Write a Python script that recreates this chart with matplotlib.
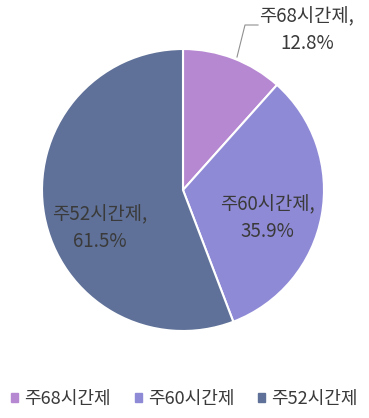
import matplotlib.pyplot as plt

plt.rcParams['font.family'] = ['Noto Sans CJK KR', 'DejaVu Sans']

categories = ['주68시간제', '주60시간제', '주52시간제']
values = [12.8, 35.9, 61.5]
colors = ['#b688d2', '#8f8ad6', '#5f7198']

fig = plt.figure(figsize=(3.69, 4.18), dpi=100)
ax = fig.add_axes([0, 0, 1, 1])

# pixel coords, y axis flipped afterwards so angles go the other way
cx, cy, r = 183, 190, 141
ax.pie(values, colors=colors, startangle=-90, counterclock=True,
       center=(cx, cy), radius=r, frame=True,
       wedgeprops=dict(edgecolor='white', linewidth=1.5))
ax.set_xlim(0, 369)
ax.set_ylim(418, 0)
ax.set_aspect('equal')
ax.axis('off')

txt = dict(fontsize=13.5, color='#3a3a3a', ha='center', va='center', linespacing=1.35)
ax.text(307, 30, f'{categories[0]},\n{values[0]}%', **txt)
ax.plot([258, 245, 237], [25, 25, 57], color='#909090', lw=0.8)
ax.text(267, 218, f'{categories[1]},\n{values[1]}%', **txt)
ax.text(100, 228, f'{categories[2]},\n{values[2]}%', **txt)

handles = [plt.Rectangle((0, 0), 1, 1, color=c) for c in colors]
leg = fig.legend(handles, categories, loc='center', bbox_to_anchor=(0.5, 0.045),
                 ncol=3, frameon=False, fontsize=13, handlelength=0.4, handleheight=0.4,
                 handletextpad=0.35, columnspacing=1.3)
for t in leg.get_texts():
    t.set_color('#3a3a3a')

fig.savefig('out.png', dpi=100)
